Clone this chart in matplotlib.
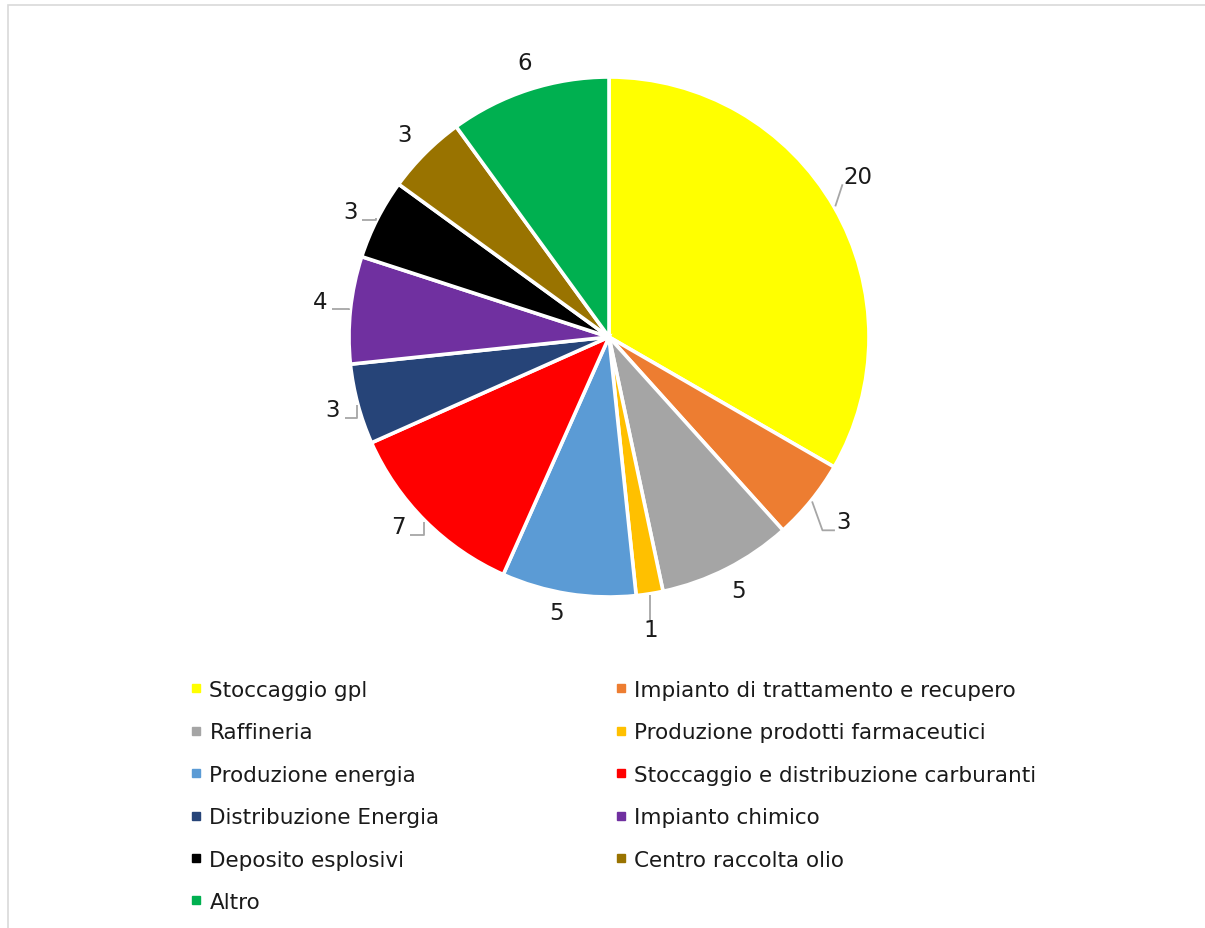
import numpy as np
import matplotlib.pyplot as plt
from matplotlib.lines import Line2D
from matplotlib.patches import Rectangle

categories = ['Stoccaggio gpl', 'Impianto di trattamento e recupero', 'Raffineria',
              'Produzione prodotti farmaceutici', 'Produzione energia',
              'Stoccaggio e distribuzione carburanti', 'Distribuzione Energia',
              'Impianto chimico', 'Deposito esplosivi', 'Centro raccolta olio', 'Altro']
values = [20, 3, 5, 1, 5, 7, 3, 4, 3, 3, 6]
colors = ['#FFFF00', '#ED7D31', '#A5A5A5', '#FFC000', '#5B9BD5', '#FF0000',
          '#264478', '#7030A0', '#000000', '#997300', '#00B050']

# label layout: distance from centre (in radii), angle shift from wedge middle (deg)
lab_r = [1.14, 1.148, 1.096, 1.138, 1.08, 1.092, 1.098, 1.12, 1.106, 1.107, 1.106]
lab_da = [2.9, 0.7, 0.0, -0.8, -1.7, -3.0, -0.2, -1.1, 1.2, 0.4, -1.0]
leader = [True, True, False, True, False, True, True, True, True, False, False]

plt.rcParams['font.family'] = ['DejaVu Sans']
W, H = 1205, 929
fig = plt.figure(figsize=(W/100, H/100), dpi=100)

# light frame (only top/left visible in the crop)
fig.patches.append(Rectangle((8/W, -0.1), 1.2, 1 - 6/H + 0.1, transform=fig.transFigure,
                             fill=False, edgecolor='#D9D9D9', lw=1.2))

cx, cy, R = 609, 338, 260
side = 2.6*R
ax = fig.add_axes([(cx - side/2)/W, (H - cy - side/2)/H, side/W, side/H])
wedges, _ = ax.pie(values, colors=colors, startangle=90, counterclock=False,
                   wedgeprops=dict(edgecolor='white', linewidth=2.6))
ax.set_xlim(-1.3, 1.3)
ax.set_ylim(-1.3, 1.3)
ax.set_aspect('equal')
ax.axis('off')

for w, v, r, da, has_line in zip(wedges, values, lab_r, lab_da, leader):
    mid = np.deg2rad((w.theta1 + w.theta2) / 2)
    ang = mid + np.deg2rad(da)
    lx, ly = r*np.cos(ang), r*np.sin(ang)
    txt = str(v)
    ax.text(lx, ly, txt, ha='center', va='center', fontsize=16.5, color='#1a1a1a')
    if not has_line:
        continue
    x0, y0 = 1.005*np.cos(mid), 1.005*np.sin(mid)
    hw = 0.027*len(txt)
    yb = ly - 0.032
    if abs(np.cos(mid)) < 0.2:
        xs, ys = [x0, x0], [y0, ly + 0.036]
    elif np.cos(mid) < 0:
        xs, ys = [x0, x0, lx + hw + 0.02], [y0, yb, yb]
    else:
        xe = lx - hw - 0.005
        xk = min(x0 + 0.04, xe)
        xs, ys = [x0, xk, xe], [y0, yb, yb]
    ax.plot(xs, ys, color='#A6A6A6', lw=1.3, solid_capstyle='butt')

handles = [Line2D([], [], marker='s', linestyle='none', markersize=6,
                  markerfacecolor=col, markeredgecolor=col) for col in colors]
kw = dict(frameon=False, fontsize=15.5, handlelength=0.55, handletextpad=0.35,
          labelspacing=1.04, borderaxespad=0, borderpad=0, labelcolor='#1a1a1a')
col1 = list(range(0, 11, 2))
col2 = list(range(1, 11, 2))
leg1 = fig.legend([handles[i] for i in col1], [categories[i] for i in col1],
                  loc='upper left', bbox_to_anchor=(190/W, 1 - 681/H), **kw)
leg2 = fig.legend([handles[i] for i in col2], [categories[i] for i in col2],
                  loc='upper left', bbox_to_anchor=(615/W, 1 - 681/H), **kw)

plt.savefig('out.png', dpi=100)
